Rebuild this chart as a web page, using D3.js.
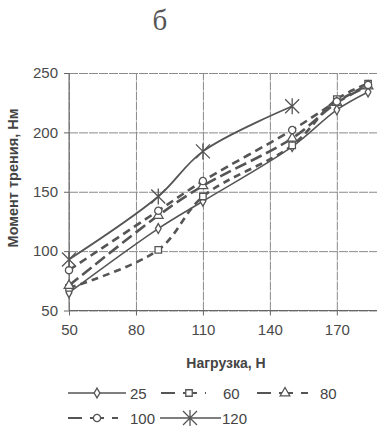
<!DOCTYPE html>
<html><head><meta charset="utf-8">
<script src="https://cdn.jsdelivr.net/npm/d3@7"></script>
<style>body{margin:0;background:#fff}svg{display:block}</style></head>
<body>
<svg id="c" width="379" height="426"></svg>
<script>
// ---- data ----
const loads = [50, 90, 110, 150, 170, 184];
const loads120 = [50, 90, 110, 150];
const s25 = [65, 119, 142, 188, 219, 234];
const s60 = [69, 101, 146, 189, 228, 241];
const s80 = [71, 130, 155, 195, 225, 239];
const s100 = [84, 134, 159, 202, 226, 240];
const s120 = [93, 146, 184, 222];
const xTicks = [50, 80, 110, 140, 170];
const yTicks = [50, 100, 150, 200, 250];
const seriesNames = ["25", "60", "80", "100", "120"];
const titleText = "б";
const xTitle = "Нагрузка, Н";
const yTitle = "Момент трения, Нм";

const col = "#555";
const svg = d3.select("#c");
const font = "'Liberation Sans', Arial, sans-serif";

const x = d3.scaleLinear().domain([50, 188]).range([69, 377]);
const y = d3.scaleLinear().domain([50, 250]).range([310.5, 73]);

// title
svg.append("text").attr("x", 160).attr("y", 30).attr("text-anchor", "middle")
  .attr("font-family", "'Liberation Serif','DejaVu Serif',serif").attr("font-size", 29)
  .attr("fill", "#555").text(titleText);

// grid
const gx = svg.append("g").attr("transform", `translate(0,${y(50)})`)
  .call(d3.axisBottom(x).tickValues(xTicks).tickSize(-(y(50) - y(250))).tickFormat(""));
const gy = svg.append("g").attr("transform", `translate(${x(50)},0)`)
  .call(d3.axisLeft(y).tickValues(yTicks).tickSize(-(x(188) - x(50))).tickFormat(""));
[gx, gy].forEach(g => { g.select(".domain").remove(); g.selectAll("line").attr("stroke", "#8a8a8a").attr("stroke-width", 1).attr("stroke-dasharray", "9,1"); });

// axes
const ax = svg.append("g").attr("transform", `translate(0,${y(50)})`)
  .call(d3.axisBottom(x).tickValues(xTicks).tickSize(5).tickPadding(9).tickFormat(d3.format("d")));
const ay = svg.append("g").attr("transform", `translate(${x(50)},0)`)
  .call(d3.axisLeft(y).tickValues(yTicks).tickSize(5).tickPadding(6).tickFormat(d3.format("d")));
[ax, ay].forEach(g => {
  g.select(".domain").attr("stroke", "#666").attr("d", null);
  g.selectAll("line").attr("stroke", "#666");
  g.selectAll("text").attr("font-family", font).attr("font-size", 15).attr("fill", "#4a4a4a");
});
svg.append("line").attr("x1", x(50)).attr("x2", x(50)).attr("y1", y(250)).attr("y2", y(50)).attr("stroke", "#666");
svg.append("line").attr("x1", x(50)).attr("x2", x(188)).attr("y1", y(50)).attr("y2", y(50)).attr("stroke", "#666");

// axis titles
svg.append("text").attr("x", 226).attr("y", 368).attr("text-anchor", "middle")
  .attr("font-family", font).attr("font-weight", "bold").attr("font-size", 14).attr("fill", "#444").text(xTitle);
svg.append("text").attr("transform", "translate(17.5,178) rotate(-90)").attr("text-anchor", "middle")
  .attr("font-family", font).attr("font-weight", "bold").attr("font-size", 14.5).attr("fill", "#444").text(yTitle);

// markers
const star = "M-7,-7L7,7M-7,7L7,-7M0,-8L0,8";
const mk = {
  diamond: g => g.append("path").attr("d", d3.symbol(d3.symbolDiamond, 28)()).attr("fill", "#fff").attr("stroke", col).attr("stroke-width", 1.3),
  square: g => g.append("path").attr("d", d3.symbol(d3.symbolSquare, 42)()).attr("fill", "#fff").attr("stroke", col).attr("stroke-width", 1.3),
  triangle: g => g.append("path").attr("d", d3.symbol(d3.symbolTriangle, 40)()).attr("fill", "#fff").attr("stroke", col).attr("stroke-width", 1.3),
  circle: g => g.append("circle").attr("r", 3.6).attr("fill", "#fff").attr("stroke", col).attr("stroke-width", 1.3),
  star: g => g.append("path").attr("d", star).attr("fill", "none").attr("stroke", col).attr("stroke-width", 1.3)
};

const series = [
  { name: seriesNames[0], xs: loads, ys: s25, dash: null, w: 1.5, m: "diamond" },
  { name: seriesNames[1], xs: loads, ys: s60, dash: "7,5", w: 2.6, m: "square" },
  { name: seriesNames[2], xs: loads, ys: s80, dash: "12,5", w: 2.6, m: "triangle" },
  { name: seriesNames[3], xs: loads, ys: s100, dash: "8,5", w: 2.6, m: "circle" },
  { name: seriesNames[4], xs: loads120, ys: s120, dash: null, w: 1.8, m: "star" }
];

const line = d3.line().x(d => x(d[0])).y(d => y(d[1])).curve(d3.curveCatmullRom.alpha(0.5));
series.forEach(s => {
  const pts = s.xs.map((v, i) => [v, s.ys[i]]);
  svg.append("path").attr("d", line(pts)).attr("fill", "none").attr("stroke", col)
    .attr("stroke-width", s.w).attr("stroke-dasharray", s.dash);
  pts.forEach(p => {
    const g = svg.append("g").attr("transform", `translate(${x(p[0])},${y(p[1])})`);
    mk[s.m](g);
  });
});

// legend
const leg = [
  { x1: 68, x2: 126, mx: 97, tx: 130, y: 393 },
  { x1: 161, x2: 206, mx: 189, tx: 223, y: 393 },
  { x1: 257, x2: 308, mx: 285, tx: 320, y: 393 },
  { x1: 68, x2: 118, mx: 97, tx: 130, y: 418 },
  { x1: 160, x2: 221, mx: 190, tx: 222, y: 418 }
];
series.forEach((s, i) => {
  const L = leg[i];
  svg.append("line").attr("x1", L.x1).attr("x2", L.x2).attr("y1", L.y).attr("y2", L.y)
    .attr("stroke", col).attr("stroke-width", s.dash ? 2.2 : 1.3).attr("stroke-dasharray", s.dash ? "14,8" : null);
  const g = svg.append("g").attr("transform", `translate(${L.mx},${L.y})`);
  mk[s.m](g);
  svg.append("text").attr("x", L.tx).attr("y", L.y + 5.5).attr("font-family", font)
    .attr("font-size", 15).attr("fill", "#444").text(s.name);
});
</script>
</body></html>
